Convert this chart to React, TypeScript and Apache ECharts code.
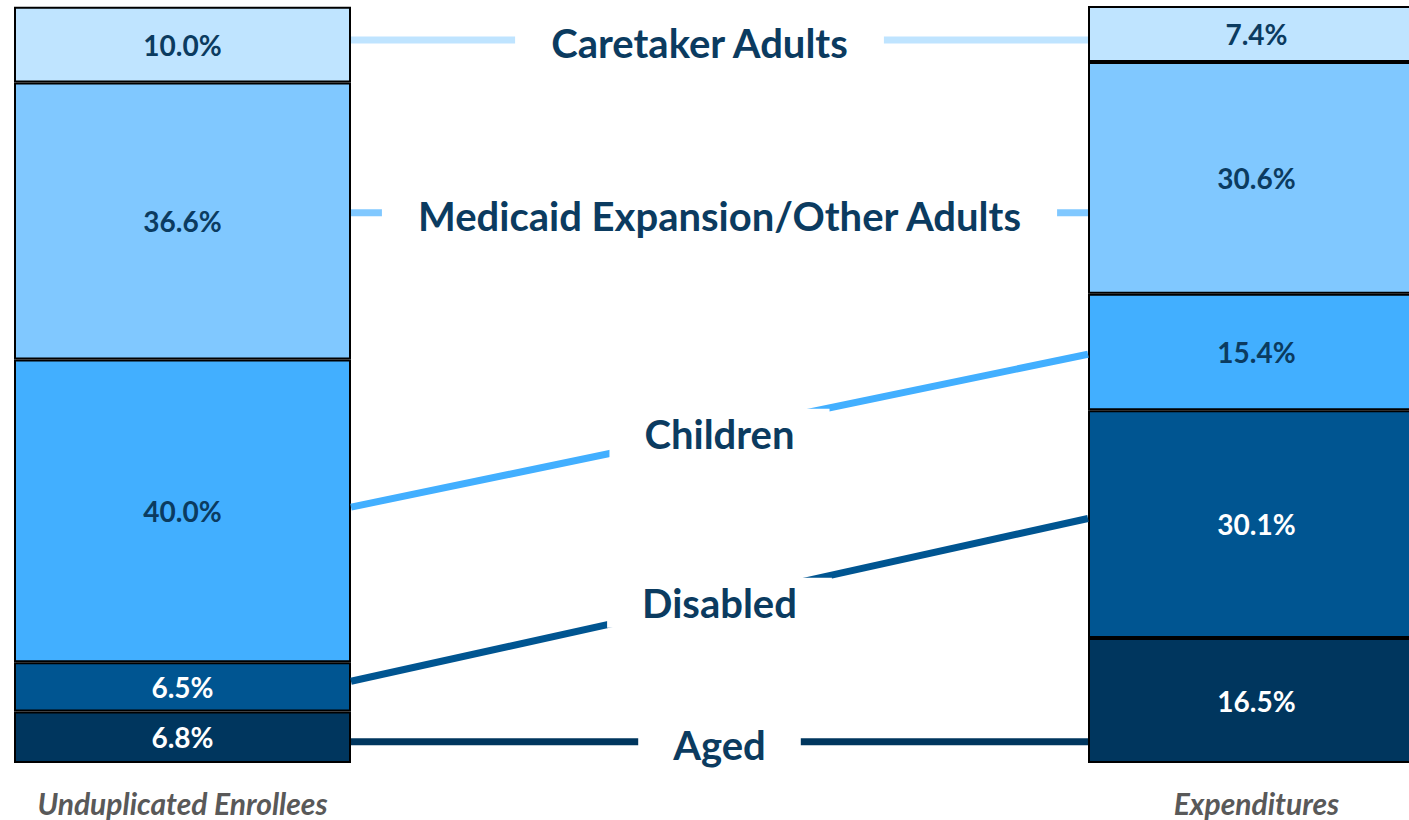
import React, { useEffect, useRef } from "react";
import * as echarts from "echarts";

const bars = ["Unduplicated Enrollees", "Expenditures"];
const groups = ["Aged", "Disabled", "Children", "Medicaid Expansion/Other Adults", "Caretaker Adults"];
const aged = [6.8, 16.5];
const disabled = [6.5, 30.1];
const children = [40.0, 15.4];
const medicaid = [36.6, 30.6];
const caretaker = [10.0, 7.4];
// connector heights (in % of stack) at left and right bar edges
const connectorLeft = [2.8, 10.8, 33.8, 72.7, 95.5];
const connectorRight = [2.8, 32.3, 54.0, 72.7, 95.5];
const labelOffsetX = [0, 0, 0, 0, -20];

const colors = ["#00365E", "#005591", "#42AFFF", "#80C8FF", "#BFE4FF"];
const labelColors = ["#ffffff", "#ffffff", "#0B3B60", "#0B3B60", "#0B3B60"];
const navy = "#0B3B60";
const BAR_W = 337;

export default function App() {
  const ref = useRef<HTMLDivElement>(null);
  useEffect(() => {
    if (!ref.current) return;
    const chart = echarts.init(ref.current, undefined, { renderer: "svg" });
    const seriesData = [aged, disabled, children, medicaid, caretaker];
    chart.setOption({
      animation: false,
      grid: { left: 182.5, right: 152.5, top: 6, bottom: 57 },
      xAxis: {
        type: "category",
        data: bars,
        boundaryGap: false,
        axisLine: { show: false },
        axisTick: { show: false },
        axisLabel: {
          margin: 25,
          fontFamily: "Lato",
          fontSize: 30,
          fontWeight: "bold",
          fontStyle: "italic",
          color: "#595959",
        },
      },
      yAxis: { type: "value", min: 0, max: 100, show: false },
      series: seriesData.map((d, i) => ({
        type: "bar",
        name: groups[i],
        stack: "total",
        data: d,
        barWidth: BAR_W,
        clip: false,
        itemStyle: { color: colors[i], borderColor: "#000", borderWidth: 2 },
        label: {
          show: true,
          position: "inside",
          formatter: (p: any) => p.value.toFixed(1) + "%",
          fontFamily: "Lato",
          fontWeight: "bold",
          fontSize: 28,
          color: labelColors[i],
        },
      })),
    });

    const graphic: any[] = [];
    groups.forEach((g, i) => {
      const pl = chart.convertToPixel({ xAxisIndex: 0, yAxisIndex: 0 }, [0, connectorLeft[i]]) as number[];
      const pr = chart.convertToPixel({ xAxisIndex: 0, yAxisIndex: 0 }, [1, connectorRight[i]]) as number[];
      const x1 = pl[0] + BAR_W / 2;
      const x2 = pr[0] - BAR_W / 2;
      graphic.push({
        type: "line",
        z: 10,
        shape: { x1, y1: pl[1], x2, y2: pr[1] },
        style: { stroke: colors[i], lineWidth: 7 },
      });
      graphic.push({
        type: "text",
        z: 11,
        x: (x1 + x2) / 2 + labelOffsetX[i],
        y: (pl[1] + pr[1]) / 2 + 3,
        style: {
          text: g,
          fontFamily: "Lato",
          fontWeight: "bold",
          fontSize: 40,
          fill: navy,
          align: "center",
          verticalAlign: "middle",
          backgroundColor: "#ffffff",
          padding: [5, 35],
        },
      });
    });
    chart.setOption({ graphic });
    return () => chart.dispose();
  }, []);
  return (
    <div
      ref={ref}
      style={{ position: "absolute", left: 0, top: 0, width: 1409, height: 820, background: "#fff" }}
    />
  );
}
